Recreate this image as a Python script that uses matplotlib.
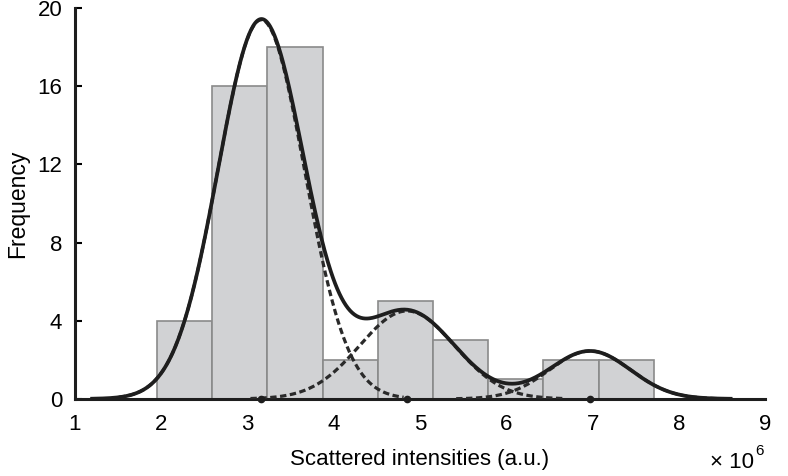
import numpy as np
import matplotlib
matplotlib.use("Agg")
import matplotlib.pyplot as plt

plt.rcParams['font.family'] = ['Liberation Sans', 'DejaVu Sans']

# Histogram data (x in units of 1e6)
bin_edges = [1.95, 2.59, 3.23, 3.87, 4.51, 5.15, 5.79, 6.43, 7.07, 7.71]
counts = [4, 16, 18, 2, 5, 3, 1, 2, 2]

# Gaussian mixture fit components: amplitude, mean, sigma
amplitudes = [19.4, 4.5, 2.45]
means = [3.16, 4.85, 6.97]
sigmas = [0.50, 0.55, 0.47]

xticks = [1, 2, 3, 4, 5, 6, 7, 8, 9]
yticks = [0, 4, 8, 12, 16, 20]

fig = plt.figure(figsize=(7.88, 4.76), dpi=100)
ax = fig.add_axes([0.095, 0.162, 0.876, 0.821])

widths = np.diff(bin_edges)
ax.bar(bin_edges[:-1], counts, width=widths, align='edge',
       color='#d1d2d4', edgecolor='#8a8a8a', linewidth=1.2, zorder=1)

def gauss(x, a, m, s):
    return a * np.exp(-(x - m) ** 2 / (2 * s ** 2))

xt = np.linspace(1.2, 8.6, 600)
total = sum(gauss(xt, a, m, s) for a, m, s in zip(amplitudes, means, sigmas))

for a, m, s in zip(amplitudes, means, sigmas):
    xc = np.linspace(m - 3.3 * s, m + 3.3 * s, 300)
    ax.plot(xc, gauss(xc, a, m, s), color='#2a2a2a', lw=2.3,
            linestyle=(0, (2.0, 1.1)), zorder=3)

ax.plot(xt, total, color='#1e1e1e', lw=2.7, zorder=4)
ax.plot(means, [0] * len(means), 'o', color='#1e1e1e', ms=4.5, zorder=5, clip_on=False)

ax.set_xlim(1, 9)
ax.set_ylim(0, 20)
ax.set_xticks(xticks)
ax.set_yticks(yticks)
ax.tick_params(axis='y', direction='in', length=5, width=1.5, labelsize=16, pad=9)
ax.tick_params(axis='x', direction='in', length=0, labelsize=16, pad=11)
for sp in ['top', 'right']:
    ax.spines[sp].set_visible(False)
for sp in ['left', 'bottom']:
    ax.spines[sp].set_linewidth(2.2)
    ax.spines[sp].set_color('#1e1e1e')

ax.set_xlabel('Scattered intensities (a.u.)', fontsize=16, labelpad=10)
ax.set_ylabel('Frequency', fontsize=16.5, labelpad=6)
fig.text(710 / 788, 8 / 476, '× 10', fontsize=16, va='baseline')
fig.text(755 / 788, 21 / 476, '6', fontsize=11, va='baseline')

fig.savefig('out.png', dpi=100)
